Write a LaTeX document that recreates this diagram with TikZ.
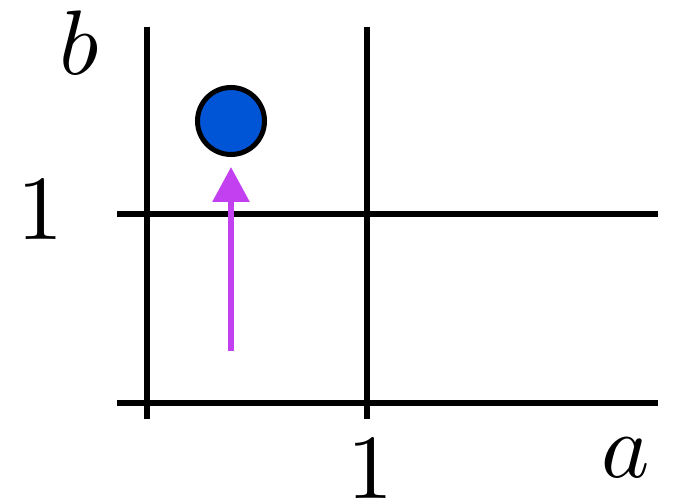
\documentclass[tikz,border=0pt]{standalone}
\usepackage{graphicx}
\usetikzlibrary{arrows.meta}
\definecolor{dotblue}{RGB}{0,85,215}
\definecolor{arrowpurple}{RGB}{194,64,240}
\newcommand{\bigglyph}[1]{\scalebox{9.2}{$#1$}}
\begin{document}
\begin{tikzpicture}[x=1bp,y=-1bp,
  gridline/.style={line width=5.8bp,black},
  lbl/.style={inner sep=0pt},
  dot/.style={circle,draw=black,line width=5bp,fill=dotblue,minimum size=67bp,inner sep=0pt},
  push/.style={draw=arrowpurple,line width=6bp,-{Triangle[length=35bp,width=36bp]}}]
\useasboundingbox (0,0) rectangle (684,504);
\coordinate (v1t) at (147,27);  \coordinate (v1b) at (147,419);
\coordinate (v2t) at (367,27);  \coordinate (v2b) at (367,419);
\coordinate (h1l) at (117,214); \coordinate (h1r) at (658,214);
\coordinate (h2l) at (117,403); \coordinate (h2r) at (658,403);
\draw[gridline] (v1t) -- (v1b);
\draw[gridline] (v2t) -- (v2b);
\draw[gridline] (h1l) -- (h1r);
\draw[gridline] (h2l) -- (h2r);
\node[dot] (p) at (231,121) {};
\coordinate (s) at (231,351);
\coordinate (e) at (231,167);
\draw[push] (s) -- (e);
\node[lbl] (lb) at (79,43) {\bigglyph{b}};
\node[lbl] (l1y) at (40,210) {\bigglyph{1}};
\node[lbl] (l1x) at (370,469) {\bigglyph{1}};
\node[lbl] (la) at (626,458) {\bigglyph{a}};
\end{tikzpicture}
\end{document}
